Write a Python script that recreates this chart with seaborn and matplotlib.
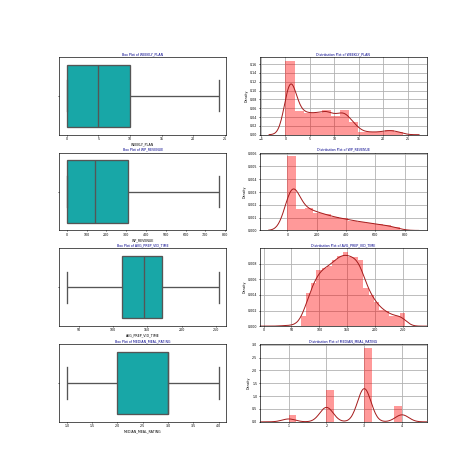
import numpy as np
import matplotlib
matplotlib.use("Agg")
import matplotlib.pyplot as plt
from matplotlib.ticker import MultipleLocator
import seaborn as sns

columns = ["WEEKLY_PLAN", "WP_REVENUE", "AVG_PREP_VID_TIME", "MEDIAN_MEAL_RATING"]

# five-number summaries (min, q1, median, q3, max)
weekly_box = [0, 0, 5, 10, 24]
revenue_box = [0, 0, 140, 307, 767]
prep_box = [33, 114, 145, 171, 254]
rating_box = [1, 2, 3, 3, 4]

# histogram bin centres and bar heights (density)
weekly_x = [0.92, 2.77, 4.62, 6.46, 8.31, 10.15, 12.0, 13.85, 15.69, 17.54, 19.38, 21.23, 23.08]
weekly_density = [0.167, 0.054, 0.049, 0.049, 0.056, 0.043, 0.056, 0.028, 0.007, 0.006, 0.006, 0.011, 0.007]

revenue_x = [29.5, 88.5, 147.5, 206.5, 265.5, 324.5, 383.5, 442.5, 501.5, 560.5, 619.5, 678.5, 737.5]
revenue_density = [0.0060, 0.00172, 0.0018, 0.00145, 0.0013, 0.00105, 0.00097, 0.0008,
                   0.0007, 0.0006, 0.0005, 0.0004, 0.00027]

# the first three points are the thin low tail (too small to show as bars)
prep_x = [36, 47, 58, 71.5, 80.8, 90.1, 99.5, 108.8, 118.1, 127.5, 136.8, 146.1, 155.5,
          164.8, 174.1, 183.5, 192.8, 202.1, 211.5, 220.8, 230.1, 239.5, 248.8]
prep_density = [0.0001, 0.0001, 0.0002, 0.0013, 0.0044, 0.0057, 0.0074, 0.0076, 0.0079, 0.0087,
                0.0092, 0.0097, 0.0091, 0.0090, 0.0087, 0.0050, 0.0041, 0.0031, 0.0021,
                0.0020, 0.0013, 0.0013, 0.0017]

rating_x = [1, 2, 3, 4]
rating_density = [0.25, 1.25, 2.87, 0.61]

box_data = [weekly_box, revenue_box, prep_box, rating_box]
hist_x = [weekly_x, revenue_x, prep_x, rating_x]
hist_w = [weekly_density, revenue_density, prep_density, rating_density]
n_bins = [13, 13, 20, 15]
bin_ranges = [(0, 24), (0, 767), (66.8, 253.5), (1, 4)]
kde_sigma = [1.2, 50, 10, 0.178]
dist_xlims = [(-5.3, 28.9), (-190, 950), (-7, 292), (0.23, 4.65)]
dist_xsteps = [5, 200, 50, 1]
dist_ysteps = [0.02, 0.001, 0.002, 0.5]


def kde_factor(x, w, sigma):
    # bw_method is relative to the weighted std of the data
    return sigma / np.sqrt(np.cov(np.asarray(x, float), aweights=np.asarray(w, float)))


fig, axes = plt.subplots(4, 2, figsize=(20, 20))
plt.subplots_adjust(left=0.125, right=0.9, top=0.88, bottom=0.11, hspace=0.23, wspace=0.2)

for i, col in enumerate(columns):
    # box plot
    ax = axes[i, 0]
    sns.boxplot(x=box_data[i], ax=ax, color="c", linecolor="#555555", linewidth=4, width=0.8)
    ax.set_title(f"Box Plot of {col}", fontsize=10, color="darkblue")
    ax.set_xlabel(col, fontsize=10)
    ax.set_yticks([0])
    ax.set_yticklabels([""])
    ax.tick_params(labelsize=10, width=2)
    for s in ax.spines.values():
        s.set_linewidth(2)

    # distribution plot
    ax = axes[i, 1]
    sns.histplot(x=hist_x[i], weights=hist_w[i], bins=n_bins[i], binrange=bin_ranges[i],
                 stat="density", color="r", alpha=0.4, linewidth=0, ax=ax)
    sns.kdeplot(x=hist_x[i], weights=hist_w[i],
                bw_method=kde_factor(hist_x[i], hist_w[i], kde_sigma[i]),
                color="#a51c1c", linewidth=3, ax=ax)
    ax.set_xlim(*dist_xlims[i])
    ax.xaxis.set_major_locator(MultipleLocator(dist_xsteps[i]))
    ax.yaxis.set_major_locator(MultipleLocator(dist_ysteps[i]))
    ax.set_title(f"Distribution Plot of {col}", fontsize=10, color="darkblue")
    ax.set_xlabel("")
    ax.set_ylabel("Density", fontsize=10)
    ax.grid(True, color="#b0b0b0", linewidth=2.5)
    ax.set_axisbelow(True)
    ax.tick_params(labelsize=10, width=2)
    for s in ax.spines.values():
        s.set_linewidth(2)

fig.savefig("out.png", dpi=23.7)
